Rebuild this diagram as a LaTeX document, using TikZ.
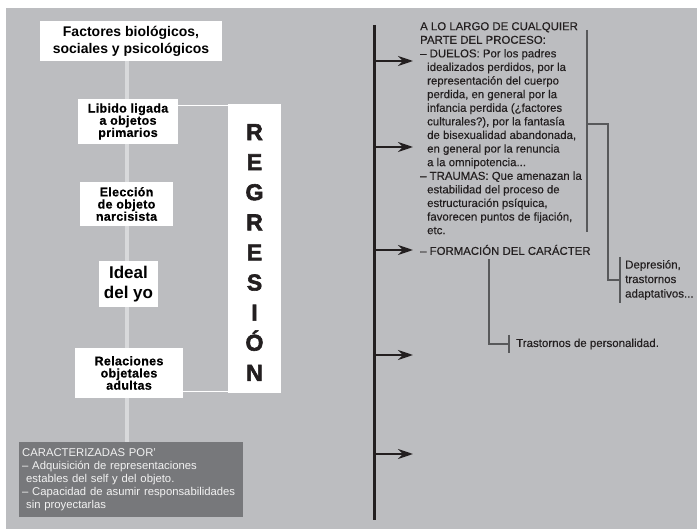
\documentclass[tikz,border=0pt]{standalone}
\usepackage{fontspec}
\setmainfont{Liberation Sans}
\newfontfamily\cajafont[LetterSpace=2.5,FakeBold=0.5]{Liberation Sans}
\newfontfamily\regfont[FakeBold=2.5]{Liberation Sans Bold}
\newfontfamily\textofont[FakeBold=0.3]{Liberation Sans}
\usepackage{xcolor}
\usepackage{tikz}
\usetikzlibrary{arrows.meta,positioning,calc,backgrounds}
\definecolor{fondo}{HTML}{BCBDC0}
\definecolor{ejeclaro}{HTML}{D8D9DB}
\definecolor{oscuro}{HTML}{77787B}
\definecolor{tinta}{HTML}{231F20}
\definecolor{trazo}{HTML}{58595B}

\begin{document}
\begin{tikzpicture}[x=1pt, y=-1pt,
  caja/.style={fill=white, align=center, inner sep=0pt,
    font=\cajafont\bfseries\fontsize{12.5pt}{12.2pt}\selectfont},
  titulo/.style={caja, font=\bfseries\fontsize{14pt}{17pt}\selectfont},
  ideal/.style={caja, font=\bfseries\fontsize{17pt}{20pt}\selectfont},
  regcaja/.style={fill=white, minimum width=53pt, minimum height=289pt, inner sep=0pt},
  regletras/.style={align=center, inner sep=0pt, text=tinta,
    font=\regfont\fontsize{23pt}{30.1pt}\selectfont},
  caract/.style={fill=oscuro, text=white!95!black, align=left, inner xsep=3pt,
    inner ysep=4pt, text width=218pt, minimum width=224pt, minimum height=75pt,
    font=\fontsize{11.3pt}{12.8pt}\selectfont},
  texto/.style={align=left, inner sep=0pt, text=tinta,
    font=\textofont\fontsize{11.4pt}{13.6pt}\selectfont},
  nota/.style={align=left, inner xsep=5pt, inner ysep=0pt, text=tinta,
    font=\textofont\fontsize{11.5pt}{14.5pt}\selectfont},
  eje/.style={draw=ejeclaro, line width=4pt},
  enlace/.style={draw=white, line width=1pt},
  columna/.style={draw=tinta, line width=3pt},
  flecha/.style={draw=tinta, line width=2.2pt, -{Stealth[length=15pt, width=10pt]}},
  llave/.style={draw=trazo, line width=1.3pt}
]
\useasboundingbox (0,0) rectangle (697,529);

\node[titulo, minimum width=182pt, minimum height=40pt] (factores) at (131,41)
  {Factores biológicos,\\sociales y psicológicos};
\node[caja, minimum width=100pt, minimum height=45pt] (libido) at (128,121.5)
  {Libido ligada\\a objetos\\primarios};
\node[caja, minimum width=93pt, minimum height=44pt] (eleccion) at (126.5,204)
  {Elección\\de objeto\\narcisista};
\node[ideal, minimum width=59pt, minimum height=46pt] (idealyo) at (128.5,284)
  {Ideal\\del yo};
\node[caja, minimum width=108pt, minimum height=50pt] (relaciones) at (129,373)
  {Relaciones\\objetales\\adultas};
\node[regcaja] (regresion) at (254.5,248.5) {};
\node[regletras] (letras) at ([yshift=-4pt]regresion.center)
  {R\\E\\G\\R\\E\\S\\I\\Ó\\N};
\node[caract, anchor=north west] (caract) at (19,442)
  {CARACTERIZADAS POR’\\
   – Adquisición de representaciones\\
   \hspace*{4pt}estables del self y del objeto.\\
   – Capacidad de asumir responsabilidades\\
   \hspace*{4pt}sin proyectarlas};

\begin{scope}[on background layer]
\fill[white] (0,0) rectangle (697,529);
\fill[fondo] (6,8) rectangle (697,529);
\draw[eje] ([xshift=-4pt]factores.south) -- ([xshift=-4pt]factores.south |- caract.north);
\end{scope}

\draw[enlace] ([yshift=15.5pt]libido.east) -- ([yshift=15.5pt]libido.east -| regresion.west);
\draw[enlace] ([yshift=-19pt]relaciones.east) -- ([yshift=-19pt]relaciones.east -| regresion.west);

\coordinate (ejeSup) at (374,25);
\coordinate (ejeInf) at (374,520);
\draw[columna] (ejeSup) -- (ejeInf);
\foreach \y [count=\i] in {61,147,250,355,454} {
  \coordinate (punta\i) at (413,\y);
  \draw[flecha] (punta\i -| ejeSup) -- (punta\i);
}

\node[texto, anchor=north west] (proceso) at (420,22)
  {A LO LARGO DE CUALQUIER\\
   PARTE DEL PROCESO:\\
   – DUELOS: Por los padres\\
   \hspace*{7pt}idealizados perdidos, por la\\
   \hspace*{7pt}representación del cuerpo\\
   \hspace*{7pt}perdida, en general por la\\
   \hspace*{7pt}infancia perdida (¿factores\\
   \hspace*{7pt}culturales?), por la fantasía\\
   \hspace*{7pt}de bisexualidad abandonada,\\
   \hspace*{7pt}en general por la renuncia\\
   \hspace*{7pt}a la omnipotencia...\\
   – TRAUMAS: Que amenazan la\\
   \hspace*{7pt}estabilidad del proceso de\\
   \hspace*{7pt}estructuración psíquica,\\
   \hspace*{7pt}favorecen puntos de fijación,\\
   \hspace*{7pt}etc.};
\node[texto, anchor=west] (formacion) at (420,250) {– FORMACIÓN DEL CARÁCTER};

\node[nota, anchor=west, minimum height=46pt] (depresion) at (620,280)
  {Depresión,\\trastornos\\adaptativos...};
\node[nota, anchor=west, minimum height=18pt, inner xsep=7pt] (personalidad) at (509,344)
  {Trastornos de personalidad.};

\coordinate (llaveA) at (587,30);
\coordinate (llaveB) at (587,232);
\coordinate (codo) at (587,124);
\draw[llave] (llaveA) -- (llaveB);
\draw[llave] (codo) -| ([xshift=-12pt]depresion.west) -- (depresion.west);
\draw[llave] (depresion.north west) -- (depresion.south west);
\draw[llave] ([xshift=69pt,yshift=-4pt]formacion.south west) |- (personalidad.west);
\draw[llave] (personalidad.north west) -- (personalidad.south west);
\end{tikzpicture}
\end{document}
